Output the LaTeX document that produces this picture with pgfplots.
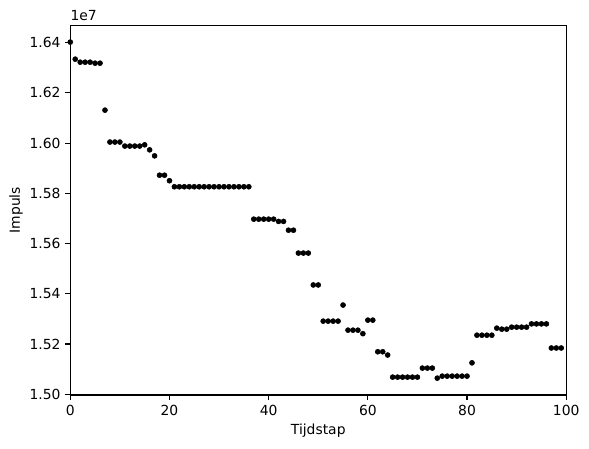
\documentclass[border=0pt]{standalone}
\usepackage{fontspec}
\setmainfont{DejaVu Sans}
\usepackage{pgfplots}
\pgfplotsset{compat=1.18}

\begin{document}
\begin{tikzpicture}
% fixed page: 589x448 px at 0.72pt per px
\useasboundingbox (-50.6pt,-38.2pt) rectangle (373.5pt,284.4pt);
\begin{axis}[
  name=ax,
  at={(0,0)}, anchor=south west,
  scale only axis,
  width=357.1pt, height=266.2pt,
  xmin=0, xmax=100,
  ymin=1.4997, ymax=1.6469,
  xtick={0,20,40,60,80,100},
  ytick={1.50,1.52,1.54,1.56,1.58,1.60,1.62,1.64},
  yticklabel style={/pgf/number format/.cd, fixed, fixed zerofill, precision=2},
  /pgf/number format/assume math mode=true,
  tick align=outside, tick pos=left,
  major tick length=3.5pt,
  every tick/.style={black, line width=0.8pt},
  axis line style={line width=0.8pt},
  font=\fontsize{10}{12}\selectfont,
  xlabel={Tijdstap},
  ylabel={Impuls},
  xlabel style={at={(axis description cs:0.5,-0.1082)}, anchor=base},
  ylabel style={at={(axis description cs:-0.1014,0.5)}, anchor=base},
  clip=false,
]
\addplot[only marks, mark=*, mark size=1.8pt, black] coordinates {
(0,1.6402) (1,1.6334) (2,1.6322) (3,1.6322) (4,1.6322) (5,1.6318) (6,1.6318)
(7,1.6131) (8,1.6004) (9,1.6004) (10,1.6004) (11,1.5988) (12,1.5988) (13,1.5988)
(14,1.5988) (15,1.5993) (16,1.5973) (17,1.5949) (18,1.5872) (19,1.5872) (20,1.5850)
(21,1.5826) (22,1.5826) (23,1.5826) (24,1.5826) (25,1.5826) (26,1.5826) (27,1.5826)
(28,1.5826) (29,1.5826) (30,1.5826) (31,1.5826) (32,1.5826) (33,1.5826) (34,1.5826)
(35,1.5826) (36,1.5826) (37,1.5697) (38,1.5697) (39,1.5697) (40,1.5697) (41,1.5697)
(42,1.5688) (43,1.5688) (44,1.5653) (45,1.5653) (46,1.5562) (47,1.5562) (48,1.5562)
(49,1.5435) (50,1.5435) (51,1.5291) (52,1.5291) (53,1.5291) (54,1.5291) (55,1.5355)
(56,1.5255) (57,1.5255) (58,1.5255) (59,1.5241) (60,1.5295) (61,1.5295) (62,1.5169)
(63,1.5169) (64,1.5156) (65,1.5068) (66,1.5068) (67,1.5068) (68,1.5068) (69,1.5068)
(70,1.5068) (71,1.5104) (72,1.5104) (73,1.5104) (74,1.5064) (75,1.5072) (76,1.5072)
(77,1.5072) (78,1.5072) (79,1.5072) (80,1.5072) (81,1.5125) (82,1.5235) (83,1.5235)
(84,1.5235) (85,1.5235) (86,1.5263) (87,1.5259) (88,1.5259) (89,1.5267) (90,1.5267)
(91,1.5267) (92,1.5267) (93,1.5280) (94,1.5280) (95,1.5280) (96,1.5280) (97,1.5184)
(98,1.5184) (99,1.5184)
};
\node[anchor=base west, inner sep=0pt, font=\fontsize{10}{12}\selectfont]
  at ([yshift=3.6pt]rel axis cs:0,1) {1e7};
\end{axis}
\end{tikzpicture}
\end{document}
